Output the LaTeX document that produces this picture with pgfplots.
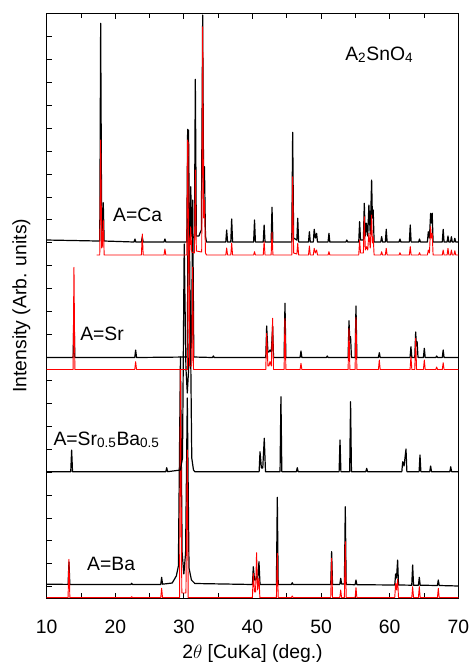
\documentclass[border=0pt]{standalone}
\usepackage{fontspec}
\setmainfont{Liberation Sans}
\usepackage{pgfplots}
\pgfplotsset{compat=1.18}

% y values are in pixel rows above the bottom frame (598 - row)
\begin{document}
\begin{tikzpicture}
\fontsize{14.5}{17}\selectfont
\begin{axis}[
    name=ax,
    scale only axis,
    width=308.7pt, height=438.5pt,
    xmin=10, xmax=70, ymin=0, ymax=584.7,
    xtick={10,20,...,70},
    minor x tick num=1,
    ytick={11.3,34.23,...,585},
    yticklabels={},
    xtick pos=both, ytick pos=left,
    tick align=inside,
    major tick length=4pt, minor tick length=3.5pt,
    tick style={line width=0.6pt, black},
    axis line style={line width=0.75pt},
    /pgf/number format/assume math mode=true,
    xticklabel style={font=\fontsize{14.5}{17}\selectfont, yshift=-11.5pt},
    xlabel={2$\theta$ [CuKa] (deg.)},
    ylabel={Intensity (Arb. units)},
    xlabel style={at={(axis description cs:0.5,-0.1043)}, anchor=base, font=\fontsize{14.5}{17}\selectfont},
    ylabel style={at={(axis description cs:-0.049,0.5)}, anchor=base, font=\fontsize{14.5}{17}\selectfont},
    every axis plot/.append style={line join=round},
]

% ---- A=Ba ----
\addplot[black, line width=0.9pt] coordinates {
(10,13.8) (13.12,13.6) (13.25,36) (13.38,13.6)
(22.26,13.5) (22.39,14.7) (22.52,13.5)
(26.63,13.5) (26.76,20.7) (26.89,13.8)
(28.3,15) (28.9,22) (29.2,32) (29.5,241) (29.75,45) (30.0,24) (30.25,45) (30.5,200) (30.75,30) (31.1,18) (31.6,14.5)
(40.0,13.5) (40.12,31.3) (40.3,18) (40.45,18) (40.6,21.3) (40.75,18) (40.95,36.3) (41.1,13.5)
(43.49,13.5) (43.62,100.7) (43.75,13.5)
(45.67,13.5) (45.8,15.3) (45.93,13.5)
(51.41,13.5) (51.54,46.3) (51.67,13.5)
(52.73,13.5) (52.86,19.7) (53.0,14) (53.4,14) (53.53,91.3) (53.66,13.5)
(54.96,13.3) (55.09,18) (55.22,13.3)
(60.74,13) (60.87,24) (61.0,20) (61.16,38) (61.29,13)
(63.22,12.8) (63.35,33) (63.48,12.8)
(64.19,12.8) (64.32,20.7) (64.45,12.8)
(66.96,12.5) (67.09,18) (67.22,12.5) (70,12)
};
\addplot[red, line width=0.7pt] coordinates {
(10,0.3) (13.12,0.3) (13.25,38.7) (13.38,0.3)
(22.26,0.3) (22.39,1.3) (22.52,0.3)
(26.63,0.3) (26.76,9.7) (26.89,0.3)
(29.37,0.3) (29.5,228) (29.7,5) (30.3,5) (30.5,148) (30.63,0.3)
(39.99,0.3) (40.12,24.7) (40.3,6) (40.45,6) (40.6,45.3) (40.75,8) (40.95,19.7) (41.08,0.3)
(43.49,0.3) (43.62,44.7) (43.75,0.3)
(45.67,0.3) (45.8,2) (45.93,0.3)
(51.41,0.3) (51.54,39.7) (51.67,0.3)
(52.73,0.3) (52.86,8) (52.99,0.3)
(53.4,0.3) (53.53,56.3) (53.66,0.3)
(54.96,0.3) (55.09,10.3) (55.22,0.3)
(60.74,0.3) (60.87,14.7) (61.0,8) (61.16,18.7) (61.29,0.3)
(63.22,0.3) (63.35,11.3) (63.48,0.3)
(64.19,0.3) (64.32,11.3) (64.45,0.3)
(66.96,0.3) (67.09,9.7) (67.22,0.3) (70,0.3)
};

% ---- A=Sr0.5Ba0.5 ----
\addplot[black, line width=0.9pt] coordinates {
(10,126.3) (13.51,126.3) (13.64,148) (13.77,126.3)
(27.37,126.3) (27.5,130.3) (27.63,126.3)
(29.5,128) (29.8,140) (30.05,354) (30.3,230) (30.5,205) (30.7,230) (30.9,308) (31.15,140) (31.4,128) (31.6,126.3)
(40.97,126.3) (41.1,146.3) (41.3,130) (41.5,130) (41.72,159.7) (41.9,126.3)
(44.02,126.3) (44.15,201.3) (44.28,126.3)
(46.4,126.3) (46.53,130.3) (46.66,126.3)
(52.63,126.3) (52.76,158) (52.89,126.3)
(54.17,126.3) (54.3,196.3) (54.43,126.3)
(56.52,126.3) (56.65,129.7) (56.78,126.3)
(61.77,126.3) (61.9,136.3) (62.1,132) (62.38,149) (62.51,126.3)
(64.29,126.3) (64.42,143) (64.55,126.3)
(65.84,126.3) (65.97,132) (66.1,126.3)
(68.77,126.3) (68.9,131.3) (69.03,126.3) (70,126.3)
};

% ---- A=Sr ----
\addplot[black, line width=0.9pt] coordinates {
(10,240.5) (13.85,240.5) (13.98,282) (14.11,240.5)
(22.84,240.5) (22.97,248) (23.1,240.5)
(30.5,241) (30.68,468) (30.95,250) (31.13,250) (31.28,398) (31.45,241)
(34.17,240.5) (34.3,242) (34.43,240.5)
(41.94,240.5) (42.07,272) (42.25,246) (42.4,246) (42.55,248) (42.75,246) (42.94,272) (43.07,240.5)
(44.61,240.5) (44.74,294.7) (44.87,240.5)
(46.94,240.5) (47.07,247) (47.2,240.5)
(50.77,240.5) (50.9,242) (51.03,240.5)
(53.94,240.5) (54.07,277.3) (54.18,258) (54.3,261.3) (54.43,240.5)
(54.96,240.5) (55.09,292) (55.22,240.5)
(58.36,240.5) (58.49,245.3) (58.62,240.5)
(62.97,240.5) (63.1,251.3) (63.23,240.5) (63.66,240.5) (63.79,266) (63.9,252) (64.0,256.3) (64.13,240.5)
(64.92,240.5) (65.05,249.7) (65.18,240.5)
(66.72,240.5) (66.85,242) (66.98,240.5)
(67.67,240.5) (67.8,248) (67.93,240.5) (70,240.5)
};
\addplot[red, line width=0.7pt] coordinates {
(10,228.5) (13.85,228.5) (13.98,330.7) (14.11,228.5)
(22.84,228.5) (22.97,236.3) (23.1,228.5)
(30.55,228.5) (30.68,456) (30.85,232) (31.15,232) (31.28,331) (31.41,228.5)
(41.94,228.5) (42.07,264.7) (42.25,232) (42.4,232) (42.55,236.3) (42.75,232) (42.94,279.7) (43.07,228.5)
(44.61,228.5) (44.74,279.7) (44.87,228.5)
(46.94,228.5) (47.07,234.7) (47.2,228.5)
(53.94,228.5) (54.07,269.7) (54.2,228.5)
(54.96,228.5) (55.09,280.7) (55.22,228.5)
(58.36,228.5) (58.49,238) (58.62,228.5)
(62.97,228.5) (63.1,241.3) (63.23,228.5) (63.66,228.5) (63.79,259.7) (63.92,228.5)
(64.92,228.5) (65.05,238) (65.18,228.5)
(66.72,228.5) (66.85,231) (66.98,228.5)
(67.67,228.5) (67.8,235.3) (67.93,228.5) (70,228.5)
};

% ---- A=Ca ----
\addplot[black, line width=0.9pt] coordinates {
(10,358) (17.5,357) (17.74,357) (17.87,574.7) (18.02,366) (18.12,368) (18.25,395.3) (18.38,357)
(22.74,356) (22.87,359) (23.0,356)
(23.81,356) (23.94,361) (24.07,356)
(27.11,356) (27.24,359) (27.37,356)
(30.42,356) (30.55,468.7) (30.7,362) (30.87,362) (31.0,411.3) (31.15,362) (31.54,360) (31.67,518.7) (31.82,362)
(32.2,362) (32.35,365) (32.55,368) (32.74,583) (32.87,420) (33.0,431.3) (33.15,362) (33.3,356)
(36.11,356) (36.24,368) (36.37,356) (36.84,356) (36.97,379) (37.1,356)
(40.17,356) (40.3,378) (40.43,356)
(41.57,356) (41.7,373) (41.83,356)
(42.72,356) (42.85,390.7) (42.98,356)
(45.73,356) (45.86,465.7) (46.0,360) (46.47,358) (46.6,379.7) (46.73,356)
(48.17,356) (48.3,366.3) (48.43,356)
(48.87,356) (49.0,368.7) (49.17,360) (49.35,364.7) (49.48,356)
(51.02,356) (51.15,364.7) (51.28,356)
(53.62,356) (53.75,358) (53.88,356)
(55.49,356) (55.62,376.3) (55.75,358) (56.17,358) (56.3,394.7) (56.45,362) (56.62,374.7) (56.8,362) (56.97,393) (57.17,364) (57.37,418) (57.48,380) (57.6,388) (57.73,356)
(58.7,356) (58.83,361.3) (58.96,356)
(59.37,356) (59.5,368.7) (59.63,356)
(61.37,356) (61.5,359) (61.63,356)
(62.87,356) (63.0,373) (63.13,356)
(64.22,356) (64.35,359) (64.48,356)
(65.5,356) (65.63,366.3) (65.8,360) (65.97,384.7) (66.08,375) (66.2,384.7) (66.33,356)
(67.67,356) (67.8,368.7) (67.93,356)
(68.37,356) (68.5,362) (68.63,356)
(68.87,356) (69.0,361.3) (69.13,356)
(69.37,356) (69.5,359.7) (69.63,356) (70,356)
};
\addplot[red, line width=0.7pt] coordinates {
(17.3,343) (17.74,343) (17.87,458) (18.02,350) (18.12,352) (18.25,378) (18.38,343)
(23.81,343) (23.94,364) (24.07,343)
(27.11,343) (27.24,349) (27.37,343)
(30.42,343) (30.55,458) (30.7,348) (30.87,348) (31.0,371.3) (31.15,346) (31.54,345) (31.67,428) (31.82,347)
(32.6,346) (32.74,571.3) (32.87,380) (33.0,398) (33.15,345) (33.3,343)
(36.11,343) (36.24,350) (36.37,343) (36.84,343) (36.97,355) (37.1,343)
(40.17,343) (40.3,346.3) (40.43,343)
(41.57,343) (41.7,356.3) (41.83,343)
(42.72,343) (42.85,366) (42.98,343)
(45.73,343) (45.86,421.3) (46.0,345) (46.47,344) (46.6,354.7) (46.73,343)
(48.17,343) (48.3,352) (48.43,343)
(48.87,343) (49.0,349.7) (49.17,345) (49.35,348) (49.48,343)
(51.02,343) (51.15,346.3) (51.28,343)
(55.49,343) (55.62,358) (55.75,345) (56.17,345) (56.3,381.3) (56.45,348) (56.62,351.3) (56.8,348) (56.97,364.7) (57.17,350) (57.37,383) (57.48,355) (57.6,361.3) (57.73,343)
(58.7,343) (58.83,346.3) (58.96,343)
(59.37,343) (59.5,349.7) (59.63,343)
(61.37,343) (61.5,345.3) (61.63,343)
(62.87,343) (63.0,351.3) (63.13,343)
(64.22,343) (64.35,345.3) (64.48,343)
(65.5,343) (65.63,348) (65.8,345) (65.97,371.3) (66.08,360) (66.2,364.7) (66.33,343)
(67.67,343) (67.8,348) (67.93,343)
(68.37,343) (68.5,349.7) (68.63,343)
(68.87,343) (69.0,348) (69.13,343)
(69.37,343) (69.5,347.3) (69.63,343) (70,343)
};

\node[anchor=base west, inner sep=0pt] at (axis cs:53.5,538) {A\textsubscript{2}SnO\textsubscript{4}};
\node[anchor=base west, inner sep=0pt] at (axis cs:19.66,377) {A=Ca};
\node[anchor=base west, inner sep=0pt] at (axis cs:14.86,258) {A=Sr};
\node[anchor=base west, inner sep=0pt] at (axis cs:10.96,153) {A=Sr\textsubscript{0.5}Ba\textsubscript{0.5}};
\node[anchor=base west, inner sep=0pt] at (axis cs:15.87,28) {A=Ba};
\end{axis}
\pgfresetboundingbox
\path (-35pt,-51pt) rectangle (316.7pt,448.5pt);
\end{tikzpicture}
\end{document}
